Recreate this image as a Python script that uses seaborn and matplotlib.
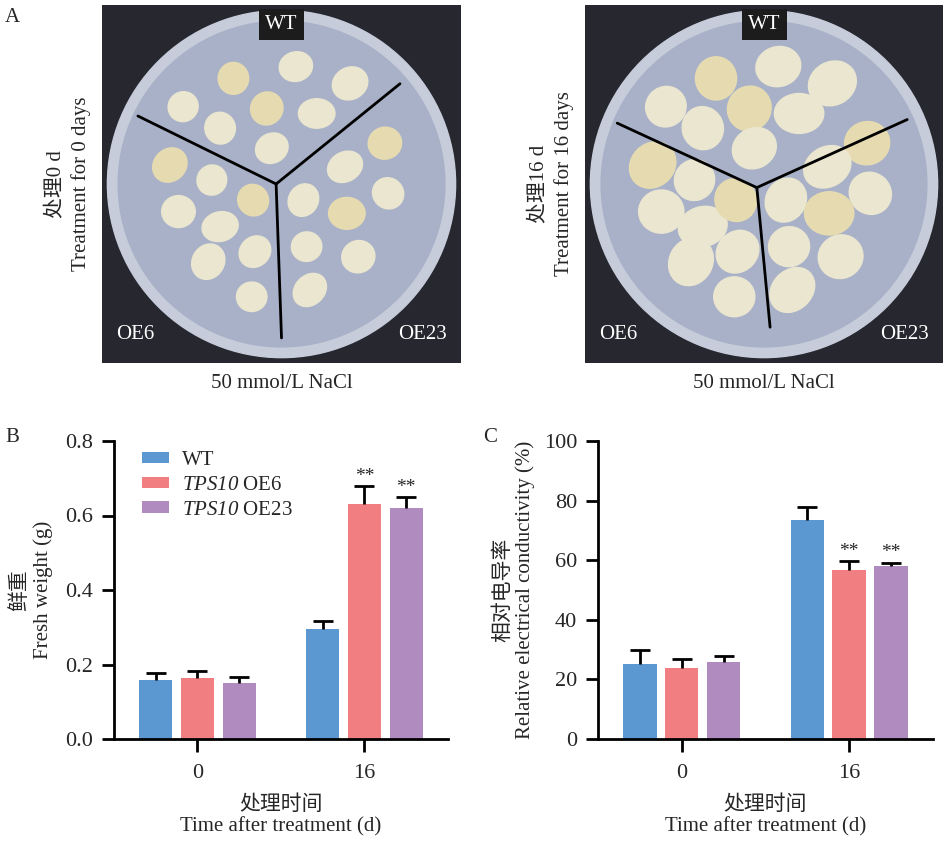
import numpy as np
import pandas as pd
import seaborn as sns
import matplotlib.pyplot as plt
from matplotlib.patches import Circle, Rectangle, Ellipse

# data
days = ['0', '16']
lines = ['WT', 'TPS10 OE6', 'TPS10 OE23']
fresh_weight = [[0.158, 0.296], [0.163, 0.631], [0.151, 0.619]]
fresh_weight_err = [[0.018, 0.020], [0.020, 0.047], [0.015, 0.031]]
conductivity = [[25.2, 73.5], [23.8, 56.6], [25.9, 58.1]]
conductivity_err = [[4.7, 4.4], [3.1, 3.2], [2.0, 1.1]]
sig_weight = [['', ''], ['', '**'], ['', '**']]
sig_cond = [['', ''], ['', '**'], ['', '**']]
photo_titles = ['处理0 d\nTreatment for 0 days', '处理16 d\nTreatment for 16 days']

colors = ['#5b97d0', '#f17e80', '#b08bbf']

sns.set_theme(style='ticks')
plt.rcParams['font.family'] = ['Liberation Serif', 'Noto Sans CJK SC']
plt.rcParams['mathtext.fontset'] = 'custom'
plt.rcParams['mathtext.it'] = 'Liberation Serif:italic'
plt.rcParams['mathtext.rm'] = 'Liberation Serif:italic'

W, H = 945, 841
fig = plt.figure(figsize=(W / 100, H / 100), dpi=100)


def px_axes(x0, y0, x1, y1):
    return fig.add_axes([x0 / W, 1 - y1 / H, (x1 - x0) / W, (y1 - y0) / H])


# ---- panel A: drawn stand-in for the petri dish photos ----
# rough places of the callus pieces on the plate (axes fraction)
callus_spots = [(0.366, 0.795), (0.540, 0.828), (0.691, 0.781), (0.226, 0.716),
                (0.459, 0.711), (0.598, 0.697), (0.329, 0.656), (0.473, 0.600),
                (0.189, 0.553), (0.306, 0.511), (0.213, 0.423), (0.329, 0.381),
                (0.421, 0.455), (0.426, 0.311), (0.296, 0.283), (0.417, 0.185),
                (0.788, 0.614), (0.677, 0.548), (0.797, 0.474), (0.561, 0.455),
                (0.682, 0.418), (0.570, 0.325), (0.714, 0.297), (0.579, 0.204)]


def draw_dish(ax, title, centre, ends, size):
    ax.set_xlim(0, 1)
    ax.set_ylim(0, 1)
    ax.add_patch(Rectangle((0, 0), 1, 1, color='#26272f'))
    ax.add_patch(Circle((0.5, 0.5), 0.485, color='#c6ccda'))
    ax.add_patch(Circle((0.5, 0.5), 0.455, color='#a8b1c7'))
    for k, (x, y) in enumerate(callus_spots):
        ax.add_patch(Ellipse((x, y), size * (1.0 + 0.1 * (k % 3)), size * (1.05 - 0.08 * (k % 2)),
                             angle=15 * (k % 5), color='#ebe6cf' if k % 4 else '#e6dbb0'))
    for ex, ey in ends:
        ax.plot([centre[0], ex], [centre[1], ey], color='black', lw=2)
    ax.text(0.5, 0.945, 'WT', color='white', fontsize=15, ha='center', va='center',
            bbox=dict(boxstyle='square,pad=0.3', fc='#1c1c1c', ec='none'))
    ax.text(0.04, 0.08, 'OE6', color='white', fontsize=15, ha='left', va='center')
    ax.text(0.96, 0.08, 'OE23', color='white', fontsize=15, ha='right', va='center')
    ax.set_xticks([])
    ax.set_yticks([])
    for s in ax.spines.values():
        s.set_visible(False)
    ax.set_ylabel(title, fontsize=15, labelpad=8, linespacing=1.3)
    ax.set_xlabel('50 mmol/L NaCl', fontsize=15, labelpad=8)


draw_dish(px_axes(102, 5, 461, 363), photo_titles[0], (0.485, 0.50),
          [(0.10, 0.69), (0.83, 0.78), (0.50, 0.07)], 0.085)
draw_dish(px_axes(585, 5, 943, 363), photo_titles[1], (0.48, 0.49),
          [(0.09, 0.67), (0.90, 0.68), (0.517, 0.10)], 0.115)
fig.text(5 / W, 1 - 18 / H, 'A', fontsize=15, va='center')


# ---- panels B and C: bar charts ----
def bar_panel(ax, values, errs, sigs, ylim, yticks, ylabel, fmt, legend, ypad):
    df = pd.DataFrame({
        'day': [d for i in range(len(lines)) for d in days],
        'line': [lines[i] for i in range(len(lines)) for _ in days],
        'value': [v for row in values for v in row],
    })
    sns.barplot(data=df, x='day', y='value', hue='line', order=days, hue_order=lines,
                palette=colors, width=0.75, gap=0.2, errorbar=None, saturation=1,
                edgecolor='none', ax=ax, legend=legend)
    bar_groups = list(ax.containers)
    for i, cont in enumerate(bar_groups):
        for j, bar in enumerate(cont.patches):
            xc = bar.get_x() + bar.get_width() / 2
            top = bar.get_height()
            e = errs[i][j]
            _, caps, _ = ax.errorbar(xc, top, yerr=[[0], [e]], fmt='none', ecolor='black',
                                     elinewidth=2, capsize=7, capthick=2, zorder=1)
            caps[0].set_visible(False)
            if sigs[i][j]:
                ax.text(xc, top + e + (ylim[1] - ylim[0]) * 0.004, sigs[i][j],
                        ha='center', va='bottom', fontsize=14)
    ax.set_xlim(-0.5, 1.5)
    ax.set_ylim(*ylim)
    ax.set_yticks(yticks)
    ax.set_yticklabels([fmt.format(t) for t in yticks])
    sns.despine(ax=ax)
    for s in ['left', 'bottom']:
        ax.spines[s].set_linewidth(2)
        ax.spines[s].set_color('black')
    ax.tick_params(axis='both', length=9, width=2, color='black', labelsize=16, pad=6)
    ax.tick_params(axis='x', pad=9)
    ax.set_ylabel(ylabel, fontsize=15, linespacing=1.2, labelpad=ypad)
    ax.set_xlabel('处理时间\nTime after treatment (d)', fontsize=15, linespacing=1.15, labelpad=9)
    if legend:
        handles, _ = ax.get_legend_handles_labels()
        labels = ['WT', r'$\mathit{TPS10}$ OE6', r'$\mathit{TPS10}$ OE23']
        ax.legend(handles, labels, loc='upper left', bbox_to_anchor=(0.084, 0.967), frameon=False,
                  fontsize=15, handlelength=1.3, handleheight=0.45, handletextpad=0.6,
                  labelspacing=0.28, borderpad=0, borderaxespad=0)


ax_b = px_axes(114, 441, 448, 739)
bar_panel(ax_b, fresh_weight, fresh_weight_err, sig_weight, (0, 0.8),
          [0.0, 0.2, 0.4, 0.6, 0.8], '鲜重\nFresh weight (g)', '{:.1f}', True, 9)
fig.text(5 / W, 1 - 437 / H, 'B', fontsize=15, va='center')

ax_c = px_axes(598, 441, 933, 739)
bar_panel(ax_c, conductivity, conductivity_err, sig_cond, (0, 100),
          [0, 20, 40, 60, 80, 100], '相对电导率\nRelative electrical conductivity (%)', '{:.0f}', False, 6)
fig.text(483 / W, 1 - 437 / H, 'C', fontsize=15, va='center')

fig.savefig('out.png', dpi=100, facecolor='white')
